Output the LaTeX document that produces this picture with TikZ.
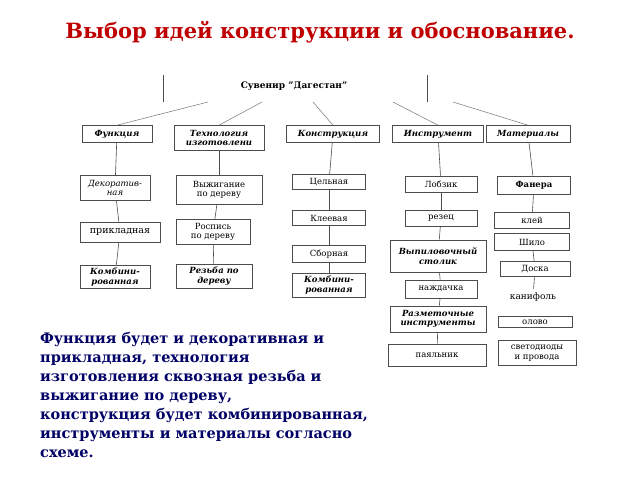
\documentclass[tikz,border=0pt]{standalone}
\usepackage{fontspec}
\setmainfont{DejaVu Serif}
\begin{document}
\begin{tikzpicture}[x=1pt,y=-1pt,
  box/.style={draw=black!70, line width=0.6pt, align=center, inner sep=1pt, font=\fontsize{8.5}{9.5}\selectfont},
  hd/.style={box, font=\fontsize{8.5}{9.5}\selectfont\bfseries\itshape},
  bi/.style={box, font=\fontsize{8.5}{9.5}\selectfont\bfseries\itshape},
  ln/.style={draw=black!70, line width=0.6pt},
  dl/.style={draw=black!55, line width=0.5pt}]
\useasboundingbox (0,0) rectangle (640,480);

\node[font=\fontsize{21}{24}\selectfont\bfseries, text=red!75!black] (title) at (320,32) {Выбор идей конструкции и обоснование.};

% root
\node[font=\fontsize{9}{10}\selectfont\bfseries] (root) at (294,86) {Сувенир "Дагестан"};
\draw[ln] (163,75) -- (163,102);
\draw[ln] (427,75) -- (427,102);
\coordinate (r1) at (208,102); \coordinate (r2) at (262,102);
\coordinate (r3) at (313,102); \coordinate (r4) at (393,102);
\coordinate (r5) at (453,102);

% categories
\node[hd, minimum width=70, minimum height=17] (fun) at (117,134) {Функция};
\node[hd, minimum width=90, minimum height=25] (tech) at (219,138) {Технология\\изготовлени};
\node[hd, minimum width=93, minimum height=17] (kon) at (333,134) {Конструкция};
\node[hd, minimum width=91, minimum height=17] (ins) at (438,134) {Инструмент};
\node[hd, minimum width=84, minimum height=17] (mat) at (528,134) {Материалы};
\draw[dl] (r1) -- (fun.north);
\draw[dl] (r2) -- (tech.north);
\draw[dl] (r3) -- (kon.north);
\draw[dl] (r4) -- (ins.north);
\draw[dl] (r5) -- (mat.north);

% function
\node[box, minimum width=70, minimum height=25] (f1) at (115,188) {\itshape Декоратив-\\\itshape ная};
\node[box, minimum width=80, minimum height=20, font=\fontsize{9.5}{10}\selectfont] (f2) at (120,232) {прикладная};
\node[bi, minimum width=70, minimum height=23] (f3) at (115,277) {Комбини-\\рованная};
\draw[ln] (fun) -- (f1);
\draw[ln] (f1) -- (f2);
\draw[ln] (f2) -- (f3);

% technology
\node[box, minimum width=86, minimum height=29] (t1) at (219,190) {Выжигание\\по дереву};
\node[box, minimum width=74, minimum height=25] (t2) at (213,232) {Роспись\\по дереву};
\node[bi, minimum width=76, minimum height=24] (t3) at (214,276) {Резьба по\\дереву};
\draw[ln] (tech) -- (t1);
\draw[ln] (t1) -- (t2);
\draw[ln] (t2) -- (t3);

% construction
\node[box, minimum width=73, minimum height=15] (k1) at (329,182) {Цельная};
\node[box, minimum width=73, minimum height=15] (k2) at (329,218) {Клеевая};
\node[box, minimum width=73, minimum height=17] (k3) at (329,254) {Сборная};
\node[bi, minimum width=73, minimum height=24] (k4) at (329,285) {Комбини-\\рованная};
\draw[ln] (kon) -- (k1);
\draw[ln] (k1) -- (k2);
\draw[ln] (k2) -- (k3);
\draw[ln] (k3) -- (k4);

% tools
\node[box, minimum width=72, minimum height=16] (i1) at (441,184) {Лобзик};
\node[box, minimum width=72, minimum height=16] (i2) at (441,218) {резец};
\node[bi, minimum width=96, minimum height=32] (i3) at (438,256) {Выпиловочный\\столик};
\node[box, minimum width=72, minimum height=18] (i4) at (441,289) {наждачка};
\node[bi, minimum width=96, minimum height=26] (i5) at (438,319) {Разметочные\\инструменты};
\node[box, minimum width=98, minimum height=22] (i6) at (437,355) {паяльник};
\draw[ln] (ins) -- (i1);
\draw[ln] (i1) -- (i2);
\draw[ln] (i2) -- (i3);
\draw[ln] (i3) -- (i4);
\draw[ln] (i4) -- (i5);
\draw[ln] (i5) -- (i6);

% materials
\node[box, minimum width=73, minimum height=18, font=\fontsize{8.5}{9.5}\selectfont\bfseries] (m1) at (534,185) {Фанера};
\node[box, minimum width=75, minimum height=16] (m2) at (532,220) {клей};
\node[box, minimum width=75, minimum height=17] (m3) at (532,242) {Шило};
\node[box, minimum width=70, minimum height=15] (m4) at (535,269) {Доска};
\node[font=\fontsize{9}{10}\selectfont] (m5) at (533,297) {канифоль};
\node[box, minimum width=74, minimum height=11] (m6) at (535,322) {олово};
\node[box, minimum width=78, minimum height=25] (m7) at (537,353) {светодиоды\\и провода};
\draw[ln] (mat) -- (m1);
\draw[ln] (m1) -- (m2);
\draw[ln] (m3) -- (m4);
\draw[ln] (m4) -- (m5);

% text
\node[anchor=north west, align=left, text=blue!40!black, inner sep=0pt, font=\fontsize{14.5}{19}\selectfont\bfseries] (txt) at (40,332)
  {Функция будет и декоративная и\\прикладная, технология\\изготовления сквозная резьба и\\выжигание по дереву,\\конструкция будет комбинированная,\\инструменты и материалы согласно\\схеме.};
\end{tikzpicture}
\end{document}
